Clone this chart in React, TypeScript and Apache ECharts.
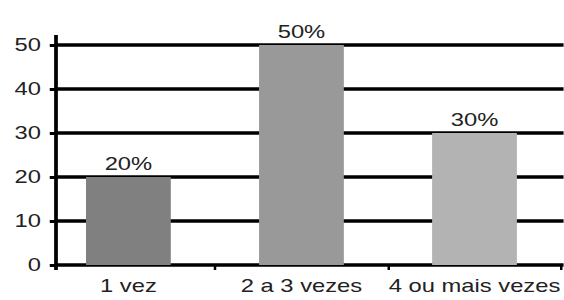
import React, { useEffect, useRef } from "react";
import * as echarts from "echarts";

const categories = ["1 vez", "2 a 3 vezes", "4 ou mais vezes"];
const values = [20, 50, 30];
const barColors = ["#808080", "#999999", "#b3b3b3"];
const yTicks = [0, 10, 20, 30, 40, 50];

const SX = 1.25;
const W = 564 / SX;

export default function App() {
  const ref = useRef<HTMLDivElement>(null);
  useEffect(() => {
    if (!ref.current) return;
    const chart = echarts.init(ref.current, null, { renderer: "svg" });
    const font = "'Liberation Sans', Arial, sans-serif";
    chart.setOption({
      animation: false,
      backgroundColor: "#ffffff",
      grid: [
        { left: 33.5, right: W - 450.5, top: 45, bottom: 35 },
        { left: 44.8, right: 0, top: 45, bottom: 35 },
      ],
      xAxis: [
        {
          type: "category",
          gridIndex: 0,
          data: categories,
          axisLine: { show: false },
          axisTick: {
            show: true,
            length: 5,
            interval: (i: number) => i !== 0,
            lineStyle: { color: "#000", width: 2 },
          },
          axisLabel: {
            interval: 0,
            margin: 11,
            fontSize: 19,
            fontFamily: font,
            color: "#222",
            hideOverlap: false,
          },
          splitLine: { show: false },
        },
        {
          type: "value",
          gridIndex: 1,
          show: false,
        },
      ],
      yAxis: [
        {
          type: "value",
          gridIndex: 0,
          min: 0,
          max: 50,
          interval: 10,
          show: false,
        },
        {
          type: "value",
          gridIndex: 1,
          min: yTicks[0],
          max: yTicks[yTicks.length - 1],
          interval: 10,
          axisLine: { show: false },
          axisTick: { show: true, length: 5, lineStyle: { color: "#000", width: 3 } },
          axisLabel: {
            margin: 12,
            fontSize: 19,
            fontFamily: font,
            color: "#222",
          },
          splitLine: { show: true, lineStyle: { color: "#000", width: 3.5 } },
        },
      ],
      series: [
        {
          type: "bar",
          xAxisIndex: 0,
          yAxisIndex: 0,
          z: 5,
          barWidth: "49%",
          data: values.map((v, i) => ({
            value: v,
            itemStyle: { color: barColors[i] },
          })),
          label: {
            show: true,
            position: "top",
            distance: 4,
            formatter: "{c}%",
            fontSize: 19,
            fontFamily: font,
            color: "#222",
          },
        },
      ],
      graphic: [
        {
          type: "line",
          z: 10,
          shape: { x1: 44.8, y1: 35, x2: 44.8, y2: 270 },
          style: { stroke: "#000", lineWidth: 3 },
        },
      ],
    });
    return () => chart.dispose();
  }, []);
  return (
    <div
      style={{
        position: "fixed",
        left: 0,
        top: 0,
        width: 564,
        height: 300,
        overflow: "hidden",
        background: "#fff",
      }}
    >
      <div
        ref={ref}
        style={{
          width: W,
          height: 300,
          transform: `scaleX(${SX})`,
          transformOrigin: "0 0",
        }}
      />
    </div>
  );
}
